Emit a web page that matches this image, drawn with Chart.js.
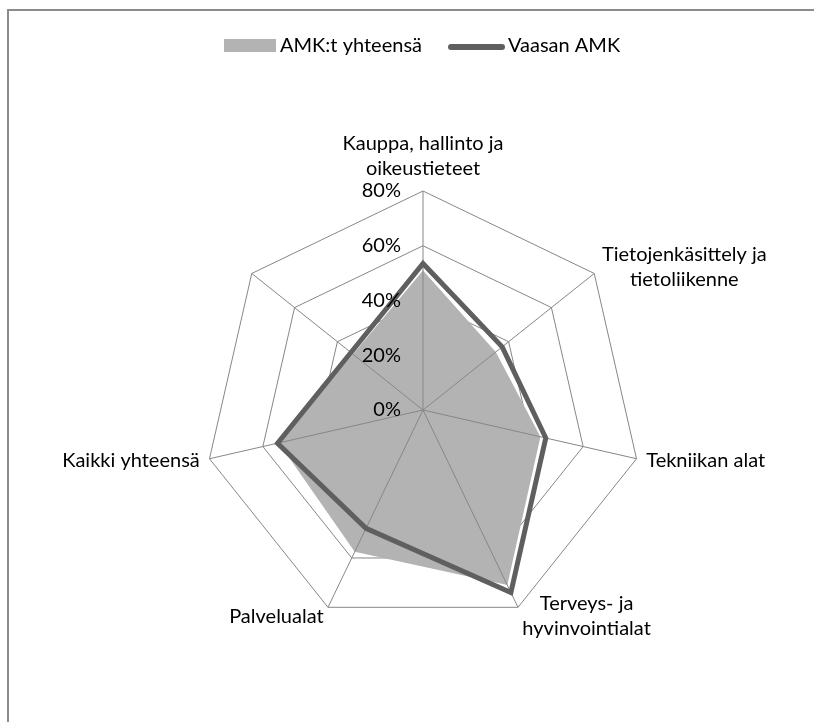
<!DOCTYPE html>
<html>
<head>
<meta charset="UTF-8">
<title>AMK radar</title>
<script src="https://cdn.jsdelivr.net/npm/chart.js"></script>
<style>
  html, body { margin: 0; padding: 0; background: #fff; }
  #wrap { width: 814px; height: 722px; position: relative; }
</style>
</head>
<body>
<div id="wrap"><canvas id="radarChart"></canvas></div>
<script>
    // Alat (viimeinen akseli on tyhjä Excelin kaaviossa)
    const categories = [
        ['Kauppa, hallinto ja', 'oikeustieteet'],
        ['Tietojenkäsittely ja', 'tietoliikenne'],
        'Tekniikan alat',
        ['Terveys- ja', 'hyvinvointialat'],
        'Palvelualat',
        'Kaikki yhteensä',
        ''
    ];
    const amkValues = [51, 34, 44, 71, 57.5, 54, null];
    const vaasaValues = [53.5, 37, 46, 74, 48, 54.5, null];
    const seriesNames = ['AMK:t yhteensä', 'Vaasan AMK'];
    const tickMin = 0, tickMax = 80, tickStep = 20;

    const font = 'Lato, "Liberation Sans", sans-serif';
    const gridColor = '#878787';

    // kehys ja valkoinen tausta
    const framePlugin = {
        id: 'frame',
        beforeDraw(chart) {
            const c = chart.ctx;
            c.save();
            c.fillStyle = '#fff';
            c.fillRect(0, 0, chart.width, chart.height);
            c.strokeStyle = '#8c8c8c';
            c.lineWidth = 2;
            c.strokeRect(8, 10, 1000, 1000);
            c.restore();
        }
    };

    // sädeviivat harmaan alueen päälle mutta viivan alle
    const spokePlugin = {
        id: 'spokes',
        afterDatasetDraw(chart, args) {
            if (args.index !== 0) return;
            const scale = chart.scales.r;
            const c = chart.ctx;
            c.save();
            c.strokeStyle = gridColor;
            c.lineWidth = 1;
            categories.forEach((lab, i) => {
                const p = scale.getPointPosition(i, scale.drawingArea);
                c.beginPath();
                c.moveTo(scale.xCenter, scale.yCenter);
                c.lineTo(p.x, p.y);
                c.stroke();
            });
            c.restore();
        }
    };

    // akselien nimet, asteikon tekstit ja selite
    const textPlugin = {
        id: 'texts',
        afterDraw(chart) {
            const scale = chart.scales.r;
            const ctx = chart.ctx;
            ctx.save();
            ctx.font = '20px ' + font;
            ctx.fillStyle = '#000';
            ctx.textBaseline = 'middle';

            ctx.textAlign = 'right';
            scale.ticks.forEach(t => {
                const d = scale.getDistanceFromCenterForValue(t.value);
                ctx.fillText(t.value + '%', scale.xCenter - 22, scale.yCenter - d);
            });

            const lh = 25;
            ctx.textAlign = 'center';
            categories.forEach((lab, i) => {
                const lines = [].concat(lab);
                if (!lines[0]) return;
                const p = scale.getPointPosition(i, scale.drawingArea + 10);
                const w = Math.max(...lines.map(s => ctx.measureText(s).width));
                let cx = p.x;
                if (p.x > scale.xCenter + 5) cx = p.x + w / 2;
                else if (p.x < scale.xCenter - 5) cx = p.x - w / 2;
                const h = lines.length * lh;
                const top = (p.y < scale.yCenter - scale.drawingArea * 0.9) ? p.y - h : p.y - h / 2;
                lines.forEach((s, j) => ctx.fillText(s, cx, top + lh * (j + 0.5)));
            });

            // selite
            const ds = chart.data.datasets;
            ctx.textAlign = 'left';
            ctx.fillStyle = ds[0].backgroundColor;
            ctx.fillRect(224, 39, 52, 13);
            ctx.fillStyle = '#000';
            ctx.fillText(ds[0].label, 280, 46);
            ctx.strokeStyle = ds[1].borderColor;
            ctx.lineWidth = 6;
            ctx.lineCap = 'round';
            ctx.beginPath();
            ctx.moveTo(451, 47);
            ctx.lineTo(502, 47);
            ctx.stroke();
            ctx.fillText(ds[1].label, 508, 46);
            ctx.restore();
        }
    };

    const ctx = document.getElementById('radarChart').getContext('2d');
    new Chart(ctx, {
        type: 'radar',
        data: {
            labels: categories,
            datasets: [
                {
                    label: seriesNames[0],
                    data: amkValues,
                    backgroundColor: '#b3b3b3',
                    borderWidth: 0,
                    fill: true,
                    pointRadius: 0,
                    spanGaps: true,
                    order: 2
                },
                {
                    label: seriesNames[1],
                    data: vaasaValues,
                    borderColor: '#5f5f5f',
                    backgroundColor: '#5f5f5f',
                    borderWidth: 5,
                    borderJoinStyle: 'miter',
                    fill: false,
                    pointRadius: 0,
                    spanGaps: true,
                    order: 1
                }
            ]
        },
        options: {
            responsive: true,
            maintainAspectRatio: false,
            animation: false,
            layout: { padding: { left: 204, right: 172, top: 191, bottom: 93 } },
            plugins: {
                legend: { display: false },
                tooltip: { enabled: false }
            },
            scales: {
                r: {
                    min: tickMin,
                    max: tickMax,
                    ticks: { stepSize: tickStep, display: false },
                    pointLabels: { display: false },
                    grid: { color: gridColor, lineWidth: 1 },
                    angleLines: { display: false }
                }
            }
        },
        plugins: [framePlugin, spokePlugin, textPlugin]
    });
</script>
</body>
</html>
